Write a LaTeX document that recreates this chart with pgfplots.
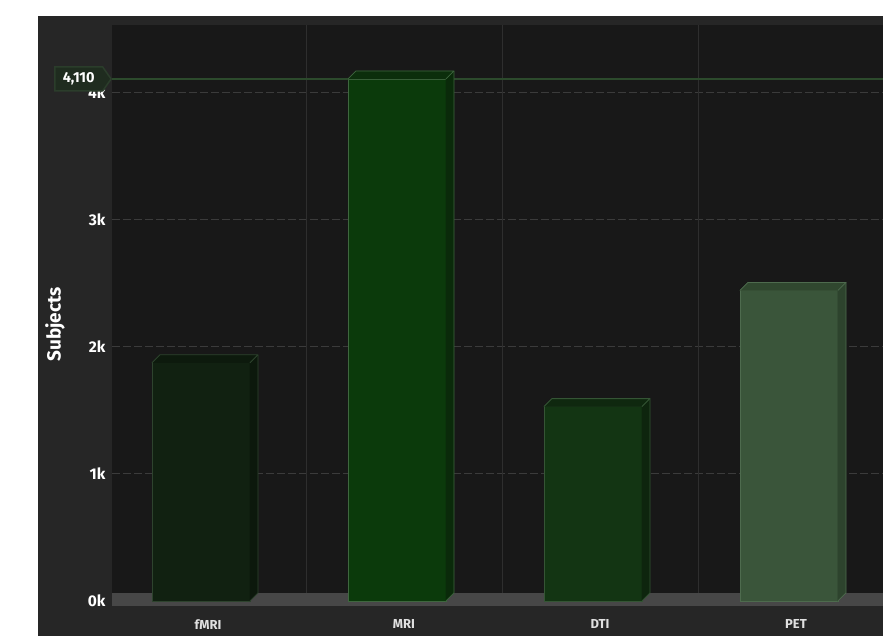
\documentclass[border=0pt]{standalone}
\usepackage{fontspec}
\setmainfont{Fira Sans}
\usepackage{pgfplots}
\pgfplotsset{compat=1.18}
\usetikzlibrary{shapes.symbols}
\definecolor{panel}{HTML}{262626}
\definecolor{plotbg}{HTML}{181818}
\definecolor{floorc}{HTML}{474747}
\definecolor{hgrid}{HTML}{3b3b3b}
\definecolor{vgrid}{HTML}{2e2e2e}
\definecolor{plotline}{HTML}{2c4a2c}
\definecolor{boxc}{HTML}{1f2c1f}
\definecolor{boxe}{HTML}{2b3d2b}
% fMRI
\definecolor{fA}{HTML}{112111}\definecolor{fT}{HTML}{0d1a0d}\definecolor{fS}{HTML}{0c180c}\definecolor{fE}{HTML}{2e432e}
% MRI
\definecolor{mA}{HTML}{0b3a0b}\definecolor{mT}{HTML}{0c2e0c}\definecolor{mS}{HTML}{0a2a0a}\definecolor{mE}{HTML}{3f663f}
% DTI
\definecolor{dA}{HTML}{133513}\definecolor{dT}{HTML}{0f280f}\definecolor{dS}{HTML}{0e250e}\definecolor{dE}{HTML}{355535}
% PET
\definecolor{pA}{HTML}{3a553a}\definecolor{pT}{HTML}{30472f}\definecolor{pS}{HTML}{2d432d}\definecolor{pE}{HTML}{4e6b4e}
\pgfdeclareplotmark{emptymark}{}
\pgfplotsset{
  prism/.style n args={3}{% top, side, edge
    scatter, only marks, mark=emptymark,
    visualization depends on={y \as \yv},
    scatter/@pre marker code/.code={%
      \begin{scope}
      \pgfmathsetmacro\hh{\yv*0.126995}%
      \fill[#2] (49pt,0pt) -- (57pt,8pt) -- (57pt,{(8-\hh)*1pt}) -- (49pt,{-\hh*1pt}) -- cycle;
      \fill[#1] (-49pt,0pt) -- (-41pt,8pt) -- (57pt,8pt) -- (49pt,0pt) -- cycle;
      \draw[#3, line width=0.8pt, line join=round] (-49pt,0pt) -- (-41pt,8pt) -- (57pt,8pt) -- (49pt,0pt);
      \draw[#3, line width=0.8pt] (57pt,8pt) -- (57pt,{(8-\hh)*1pt}) -- (49pt,{-\hh*1pt});
    },
    scatter/@post marker code/.code={\end{scope}},
  },
  front/.style n args={2}{ybar, bar width=0.5, bar shift=0pt, fill=#1, draw=#2, line width=0.8pt},
}
\begin{document}
\begin{tikzpicture}[x=1pt,y=1pt]
\fill[white] (0,0) rectangle (883,636);
\fill[panel] (38,0) rectangle (883,620);
\begin{axis}[
  at={(112pt,30pt)}, anchor=south west,
  scale only axis, width=771pt, height=581pt,
  xmin=-0.454, xmax=3.48, ymin=-40, ymax=4535,
  axis background/.style={fill=plotbg},
  axis line style={draw=none},
  major tick length=0pt,
  xtick={0.036,1.036,2.036,3.036},
  xticklabels={fMRI,MRI,DTI,PET},
  ytick={0,1000,2000,3000,4000},
  yticklabels={0k,1k,2k,3k,4k},
  ymajorgrids,
  y grid style={hgrid, dash pattern=on 8pt off 3pt, line width=1pt},
  extra x ticks={0.536,1.536,2.536}, extra x tick labels={},
  extra x tick style={grid=major, major grid style={vgrid, solid, line width=1pt}},
  /pgf/number format/assume math mode=true,
  yticklabel style={font=\fontsize{15.5}{17}\selectfont\bfseries, text=white, xshift=-3pt},
  xticklabel style={font=\fontsize{13}{15}\selectfont\bfseries, text=white!88!black, yshift=-10pt},
  ylabel={Subjects},
  ylabel style={at={(axis description cs:-0.074,0.485)}, anchor=center, font=\fontsize{19}{22}\selectfont\bfseries, text=white},
  clip=true,
]
\fill[floorc] (rel axis cs:0,0) rectangle (rel axis cs:1,0.0224);
\draw[plotline, line width=1.5pt] ({rel axis cs:0,0}|-{axis cs:0,4110}) -- ({rel axis cs:1,0}|-{axis cs:0,4110});
\coordinate (pl) at ({rel axis cs:0,0}|-{axis cs:0,4110});
% fMRI
\addplot[prism={fT}{fS}{fE}] coordinates {(0,1875)};
\addplot[front={fA}{fE}] coordinates {(0,1875)};
% MRI
\addplot[prism={mT}{mS}{mE}] coordinates {(1,4110)};
\addplot[front={mA}{mE}] coordinates {(1,4110)};
% DTI
\addplot[prism={dT}{dS}{dE}] coordinates {(2,1530)};
\addplot[front={dA}{dE}] coordinates {(2,1530)};
% PET
\addplot[prism={pT}{pS}{pE}] coordinates {(3,2445)};
\addplot[front={pA}{pE}] coordinates {(3,2445)};
\end{axis}
\node[signal, signal to=east, signal pointer angle=110, fill=boxc, draw=boxe, line width=1.5pt, text=white,
  font=\fontsize{14.5}{17}\selectfont\bfseries, minimum height=24pt, inner xsep=8pt, inner ysep=5pt, anchor=east] at (pl) {4,110};
\pgfresetboundingbox
\useasboundingbox (0,0) rectangle (883,636);
\end{tikzpicture}
\end{document}
